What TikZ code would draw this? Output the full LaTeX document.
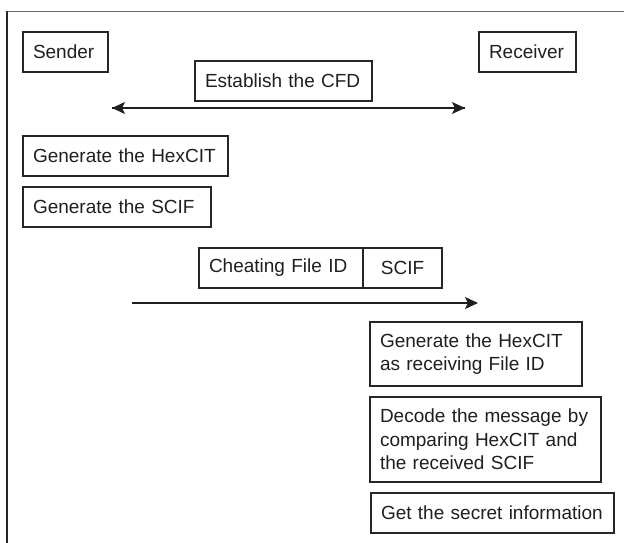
\documentclass[tikz,border=0pt]{standalone}
\usepackage{fontspec}
\setmainfont{Liberation Sans}
\usetikzlibrary{arrows.meta}
\begin{document}
\begin{tikzpicture}[x=1pt,y=-1pt,
  font=\fontsize{19}{23.5}\selectfont,
  every node/.style={text=black!88},
  stepbox/.style={draw=black!85, line width=1.3pt, inner xsep=10pt, inner ysep=0pt,
    align=left, minimum height=#1},
  stepbox/.default=40pt,
  flow/.style={draw=black!88, line width=1.1pt},
  tip/.style={-{Stealth[length=13pt,width=12pt,inset=3pt]}}
]
\useasboundingbox (0,0) rectangle (624,543);

% frame
\draw[gray!80!black, line width=0.8pt] (7,11) -- (624,11);
\draw[black!85, line width=1.2pt] (7,11) -- (7,543);

% parties
\node[stepbox, text width=65pt]  (sender)   at (65.5,52)  {Sender};
\node[stepbox, text width=77pt]  (receiver) at (527.5,52) {Receiver};

% key agreement
\node[stepbox, text width=157pt] (cfd) at (283.5,81) {Establish the CFD};
\coordinate (cfdL) at (112,108);
\coordinate (cfdR) at (465,108);
\draw[flow, tip] (cfdL) -- (cfdR);
\draw[flow, tip] (cfdR) -- (cfdL);

% sender side
\node[stepbox, text width=185pt] (genhex)  at (125.5,156) {Generate the HexCIT};
\node[stepbox, text width=168pt] (genscif) at (117,207)   {Generate the SCIF};

% transmitted packet
\node[stepbox, text width=144pt] (fileid) at (281,268) {Cheating File ID};
\node[stepbox, text width=59pt, align=center] (scif) at (402.5,268) {SCIF};
\coordinate (sendL) at (132,303);
\coordinate (sendR) at (478,303);
\draw[flow, tip] (sendL) -- (sendR);

% receiver side
\node[stepbox=64pt, text width=192pt] (rhex)   at (476,354)   {Generate the HexCIT\\as receiving File ID};
\node[stepbox=85pt, text width=211pt] (decode) at (485.5,439.5) {Decode the message by\\comparing HexCIT and\\the received SCIF};
\node[stepbox, text width=223pt] (secret) at (492.5,513) {Get the secret information};
\end{tikzpicture}
\end{document}
